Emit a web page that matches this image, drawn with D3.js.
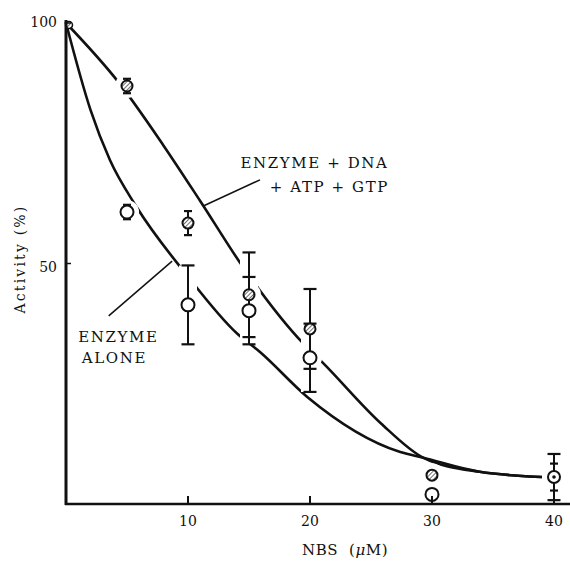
<!DOCTYPE html>
<html>
<head>
<meta charset="utf-8">
<script src="https://cdn.jsdelivr.net/npm/d3@7"></script>
<style>
  html, body { margin: 0; padding: 0; background: #fff; }
  svg { display: block; }
  text { font-family: "DejaVu Serif", "Liberation Serif", serif; fill: #111; }
</style>
</head>
<body>
<svg id="chart" width="570" height="562"></svg>
<script>
// NBS concentrations (µM) at which activity was measured
const doses = [0, 5, 10, 15, 20, 30, 40];

// Enzyme + DNA + ATP + GTP: mean activity (%) and error half-width
const withCofactorsMean = [100, 86.9, 58.4, 43.5, 36.4, 6.0, 5.6];
const withCofactorsErr  = [0, 1.5, 2.5, 8.8, 8.3, 0, 4.8];

// Enzyme alone: mean activity (%) and error half-width
const aloneMean = [100, 60.7, 41.4, 40.2, 30.4, 2.0, 5.6];
const aloneErr  = [0, 1.5, 8.2, 7.0, 7.1, 0, 2.8];

// Hand-fitted smooth curves through each series
const withCofactorsCurveX = [0, 4.3, 8, 11, 14.5, 19.4, 21, 25.8, 29.3, 33.9, 40];
const withCofactorsCurveY = [100, 87.7, 74.5, 63, 49.3, 33.5, 29.5, 16.8, 9.6, 6.7, 5.5];
const aloneCurveX = [0, 2, 3.6, 5.8, 9.9, 14, 15.9, 19.8, 27.4, 29.3, 33.9, 40];
const aloneCurveY = [100, 82, 71.5, 61.7, 47.6, 35.5, 31.6, 22.2, 10.8, 9.6, 6.7, 5.5];

// Axis ticks
const xTicks = [10, 20, 30, 40];
const yTicks = [50, 100];

const svg = d3.select("#chart");
const x = d3.scaleLinear().domain([0, 40]).range([66, 554]);
const y = d3.scaleLinear().domain([0, 100]).range([504, 23]);

// hatch fill for the cofactor symbols
const defs = svg.append("defs");
const pat = defs.append("pattern")
  .attr("id", "hatch").attr("patternUnits", "userSpaceOnUse")
  .attr("width", 3).attr("height", 3).attr("patternTransform", "rotate(45)");
pat.append("rect").attr("width", 3).attr("height", 3).attr("fill", "#fff");
pat.append("line").attr("x1", 0).attr("y1", 0).attr("x2", 0).attr("y2", 3)
  .attr("stroke", "#333").attr("stroke-width", 1.4);

// fitted curves
const line = d3.line().x(d => x(d[0])).y(d => y(d[1])).curve(d3.curveMonotoneX);
const curves = [
  d3.zip(withCofactorsCurveX, withCofactorsCurveY),
  d3.zip(aloneCurveX, aloneCurveY)
];
svg.append("g").selectAll("path").data(curves).join("path")
  .attr("d", line).attr("fill", "none").attr("stroke", "#111")
  .attr("stroke-width", 2.6).attr("stroke-linecap", "round");

// series records
const series = [
  { mean: withCofactorsMean, err: withCofactorsErr, kind: "hatch" },
  { mean: aloneMean, err: aloneErr, kind: "open" }
];
const points = [];
series.forEach(s => doses.forEach((d, i) => {
  points.push({ dose: d, v: s.mean[i], e: s.err[i], kind: s.kind });
}));

// white halos break the curves around each point and error bar
const halo = svg.append("g");
points.filter(p => p.dose > 0).forEach(p => {
  if (p.e > 0) {
    halo.append("line")
      .attr("x1", x(p.dose)).attr("x2", x(p.dose))
      .attr("y1", y(p.v + p.e)).attr("y2", y(p.v - p.e))
      .attr("stroke", "#fff").attr("stroke-width", 18);
  }
  halo.append("circle").attr("cx", x(p.dose)).attr("cy", y(p.v))
    .attr("r", 12).attr("fill", "#fff");
});

// error bars
const bars = svg.append("g").attr("stroke", "#111");
points.filter(p => p.e > 0).forEach(p => {
  const cx = x(p.dose), cw = p.e > 3 ? 6.5 : 4;
  bars.append("line").attr("x1", cx).attr("x2", cx)
    .attr("y1", y(p.v + p.e)).attr("y2", y(p.v - p.e)).attr("stroke-width", 2);
  [p.v + p.e, p.v - p.e].forEach(t => {
    bars.append("line").attr("x1", cx - cw).attr("x2", cx + cw)
      .attr("y1", y(t)).attr("y2", y(t)).attr("stroke-width", 2.2);
  });
});

// symbols
const sym = svg.append("g");
points.filter(p => p.dose > 0 && p.dose < 40).forEach(p => {
  sym.append("circle").attr("cx", x(p.dose)).attr("cy", y(p.v))
    .attr("r", p.kind === "hatch" ? 5.5 : 6.5)
    .attr("fill", p.kind === "hatch" ? "url(#hatch)" : "#fff")
    .attr("stroke", "#111").attr("stroke-width", 2);
});
// both series coincide at 40 µM: circle with a centre dot
sym.append("circle").attr("cx", x(40)).attr("cy", y(aloneMean[6]))
  .attr("r", 6).attr("fill", "#fff").attr("stroke", "#111").attr("stroke-width", 2);
sym.append("circle").attr("cx", x(40)).attr("cy", y(aloneMean[6]))
  .attr("r", 1.8).attr("fill", "#111");
// shared starting point at 0 µM
sym.append("circle").attr("cx", x(0) + 3).attr("cy", y(100) + 2)
  .attr("r", 3.5).attr("fill", "url(#hatch)").attr("stroke", "#111").attr("stroke-width", 1.5);

// axes
const ax = svg.append("g").attr("stroke", "#111");
ax.append("line").attr("x1", x(0)).attr("x2", x(0))
  .attr("y1", y(100.6)).attr("y2", y(0) + 1).attr("stroke-width", 3);
ax.append("line").attr("x1", x(0) - 1).attr("x2", 570)
  .attr("y1", y(0)).attr("y2", y(0)).attr("stroke-width", 2.6);
xTicks.forEach(t => {
  ax.append("line").attr("x1", x(t)).attr("x2", x(t))
    .attr("y1", y(0)).attr("y2", y(0) - 8).attr("stroke-width", 2);
});
yTicks.forEach(t => {
  ax.append("line").attr("x1", x(0)).attr("x2", x(0) + 5)
    .attr("y1", y(t)).attr("y2", y(t)).attr("stroke-width", 1.5);
});

// tick labels
svg.append("g").selectAll("text").data(xTicks).join("text")
  .attr("x", d => x(d)).attr("y", y(0) + 22)
  .attr("text-anchor", "middle").attr("font-size", 14)
  .text(d => d);
svg.append("g").selectAll("text").data(yTicks).join("text")
  .attr("x", x(0) - 9).attr("y", d => y(d) + (d === 100 ? 4 : 8.5))
  .attr("text-anchor", "end").attr("font-size", 14)
  .text(d => d);

// axis titles
svg.append("text").attr("x", 302).attr("y", 555)
  .attr("font-size", 15).attr("letter-spacing", 0.6)
  .html('NBS\u00a0 (<tspan font-style="italic">μ</tspan>M)');
svg.append("text")
  .attr("transform", `translate(25, ${259}) rotate(-90)`)
  .attr("text-anchor", "middle").attr("font-size", 14).attr("letter-spacing", 2.2)
  .text("Activity (%)");

// series labels with leader lines
const lab = svg.append("g").attr("font-size", 15).attr("letter-spacing", 1.6);
lab.append("text").attr("x", x(14.3)).attr("y", y(69.9)).text("ENZYME + DNA");
lab.append("text").attr("x", x(16.7)).attr("y", y(64.9)).text("+ ATP + GTP");
lab.append("text").attr("x", x(1)).attr("y", y(33.6)).text("ENZYME");
lab.append("text").attr("x", x(1.3)).attr("y", y(29.4)).text("ALONE");

const leaders = [
  [[11.3, 62.0], [15.9, 67.4]],
  [[3.5, 39.1], [8.7, 50.5]]
];
svg.append("g").selectAll("line").data(leaders).join("line")
  .attr("x1", d => x(d[0][0])).attr("y1", d => y(d[0][1]))
  .attr("x2", d => x(d[1][0])).attr("y2", d => y(d[1][1]))
  .attr("stroke", "#111").attr("stroke-width", 1.5);
</script>
</body>
</html>
